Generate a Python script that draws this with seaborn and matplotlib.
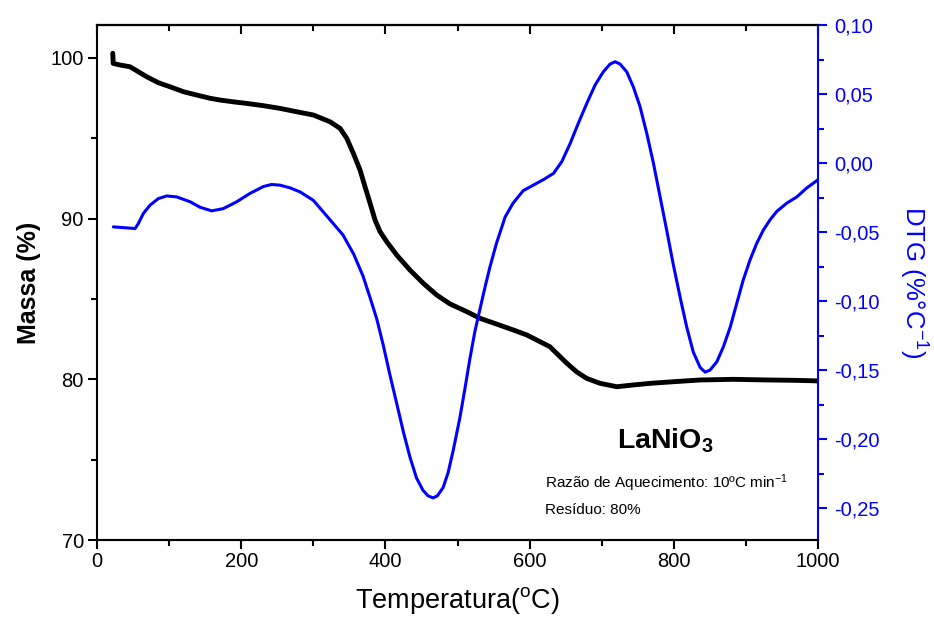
import numpy as np
import pandas as pd
import matplotlib
matplotlib.use('Agg')
import matplotlib.pyplot as plt
from matplotlib.ticker import MultipleLocator, FuncFormatter
import seaborn as sns

# ---- dados ----
temp_massa = [21.8, 22.4, 31.9, 45.8, 57.3, 68.9, 85, 101, 119.7, 138.3, 156.7,
              170.6, 189, 207.6, 230.7, 253.8, 277, 300, 323, 337, 346.3, 355.5,
              364.8, 371.7, 378.7, 385.6, 392.5, 401.8, 415.7, 434, 452.6, 471,
              489.6, 512.8, 531, 554, 577.4, 596, 614.4, 628, 651.5, 665, 679,
              697.6, 720.8, 744, 767, 799, 836.4, 882.5, 929, 965, 993.5, 1000]
massa = [100.29, 99.66, 99.56, 99.45, 99.14, 98.83, 98.46, 98.21, 97.90, 97.69,
         97.49, 97.38, 97.27, 97.17, 97.03, 96.86, 96.65, 96.45, 96.03, 95.62,
         95.0, 94.06, 93.02, 91.98, 90.95, 89.91, 89.19, 88.56, 87.73, 86.80,
         85.97, 85.25, 84.69, 84.21, 83.80, 83.44, 83.07, 82.76, 82.34, 82.03,
         81.0, 80.47, 80.06, 79.75, 79.54, 79.65, 79.75, 79.85, 79.96, 80.0,
         79.96, 79.94, 79.91, 79.9]

temp_dtg = [22.6, 52.7, 57.3, 64.2, 73.5, 85, 96.7, 110.5, 129, 142.9, 159, 175,
            193.8, 212, 230.7, 242, 253.8, 268, 282, 300, 323, 341, 356, 369,
            379, 388, 397, 406, 416, 425, 434, 443, 452, 459, 466, 472, 480, 487,
            494, 503, 510, 517, 524, 531, 538, 545, 554, 566, 577, 591, 605, 619,
            633, 644.5, 656, 667.6, 679, 690.7, 702, 711.5, 718.5, 725.4, 734.7,
            743.9, 753, 762.4, 771.6, 780.9, 790, 799, 808.6, 817.9, 827, 836.4,
            843.3, 850, 859.5, 868.7, 878, 887, 896, 905.7, 915, 924, 933.5,
            942.7, 956.6, 970.5, 984.3, 995.9, 1000]
dtg = [-0.0462, -0.0474, -0.0438, -0.0365, -0.0305, -0.0257, -0.0238, -0.0245,
       -0.028, -0.032, -0.0346, -0.033, -0.028, -0.022, -0.017, -0.0155, -0.016,
       -0.018, -0.021, -0.027, -0.041, -0.052, -0.066, -0.082, -0.098, -0.113,
       -0.132, -0.153, -0.175, -0.195, -0.213, -0.228, -0.237, -0.241, -0.2425,
       -0.241, -0.235, -0.224, -0.208, -0.185, -0.164, -0.142, -0.122, -0.106,
       -0.090, -0.075, -0.058, -0.039, -0.029, -0.020, -0.016, -0.012, -0.0075,
       0.001, 0.014, 0.029, 0.043, 0.0565, 0.066, 0.0717, 0.0734, 0.0717, 0.066,
       0.055, 0.041, 0.0215, 0.000, -0.0245, -0.0486, -0.073, -0.097, -0.119,
       -0.137, -0.148, -0.1514, -0.150, -0.144, -0.133, -0.119, -0.102, -0.085,
       -0.070, -0.058, -0.0486, -0.041, -0.035, -0.029, -0.0245, -0.018, -0.0136,
       -0.012]

df_m = pd.DataFrame({'T': temp_massa, 'Massa': massa})
df_d = pd.DataFrame({'T': temp_dtg, 'DTG': dtg})

# ---- estilo ----
sns.set_style('ticks')
plt.rcParams['font.family'] = ['Liberation Sans', 'DejaVu Sans']
plt.rcParams['mathtext.fontset'] = 'custom'
plt.rcParams['mathtext.rm'] = 'Liberation Sans'
plt.rcParams['mathtext.it'] = 'Liberation Sans:italic'
plt.rcParams['mathtext.bf'] = 'Liberation Sans:bold'
for k in ['text.color', 'axes.labelcolor', 'xtick.color', 'ytick.color', 'axes.edgecolor']:
    plt.rcParams[k] = 'black'

azul = '#0000FF'

fig = plt.figure(figsize=(9.34, 6.19), dpi=100)
ax = fig.add_axes([0.1039, 0.1276, 0.772, 0.832])
ax2 = ax.twinx()

sns.lineplot(data=df_m, x='T', y='Massa', ax=ax, color='black', lw=3.5, sort=False)
sns.lineplot(data=df_d, x='T', y='DTG', ax=ax2, color=azul, lw=2.2, sort=False)

ax.set_xlim(0, 1000)
ax.set_ylim(70, 102.05)
ax2.set_ylim(-0.273, 0.10)

ax.xaxis.set_major_locator(MultipleLocator(200))
ax.xaxis.set_minor_locator(MultipleLocator(100))
ax.yaxis.set_major_locator(MultipleLocator(10))
ax.yaxis.set_minor_locator(MultipleLocator(5))
ax2.yaxis.set_major_locator(MultipleLocator(0.05))
ax2.yaxis.set_minor_locator(MultipleLocator(0.025))
ax2.yaxis.set_major_formatter(FuncFormatter(lambda v, p: f'{v:.2f}'.replace('.', ',')))

for a in (ax, ax2):
    for s in a.spines.values():
        s.set_linewidth(1.5)
ax.spines['right'].set_visible(False)
ax2.spines['right'].set_color(azul)
ax2.spines['left'].set_visible(False)

ax.tick_params(axis='both', which='major', direction='out', length=6.5, width=1.5,
               labelsize=14.5)
ax.tick_params(axis='y', which='major', pad=3)
ax.tick_params(axis='x', which='major', pad=2)
ax.tick_params(axis='both', which='minor', direction='out', length=4, width=1.5)
ax2.tick_params(axis='y', which='major', direction='out', length=6.5, width=1.5,
                colors=azul, labelsize=14.5, pad=5)
ax2.tick_params(axis='y', which='minor', direction='out', length=4, width=1.5,
                colors=azul)

# ticks internos no topo
top = ax.secondary_xaxis('top')
top.xaxis.set_major_locator(MultipleLocator(200))
top.xaxis.set_minor_locator(MultipleLocator(100))
top.tick_params(which='major', direction='in', length=6.5, width=1.5, labeltop=False)
top.tick_params(which='minor', direction='in', length=4, width=1.5)
top.spines['top'].set_linewidth(1.5)

ax.set_xlabel(r'Temperatura($^{\mathrm{o}}$C)', fontsize=19.5, labelpad=10)
ax.set_ylabel('Massa (%)', fontsize=18, fontweight='bold', labelpad=7)
ax2.set_ylabel(r'DTG (%$\mathrm{°}$C$^{\mathrm{-1}}$)', fontsize=18.5, color=azul,
               rotation=270, labelpad=36)

ax.text(788, 76.2, r'LaNiO$_\mathbf{3}$', fontsize=20.5, fontweight='bold',
        ha='center', va='center')
ax.text(621, 73.55, r'Razão de Aquecimento: 10ºC min$^{\mathrm{-1}}$', fontsize=11,
        ha='left', va='center')
ax.text(621, 71.85, 'Resíduo: 80%', fontsize=11, ha='left', va='center')

fig.savefig('out.png', dpi=100)
